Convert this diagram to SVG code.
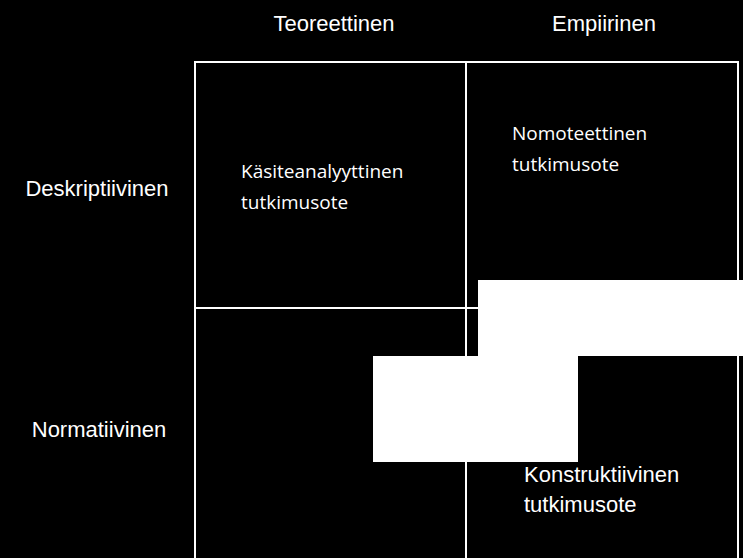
<svg xmlns="http://www.w3.org/2000/svg" width="743" height="558" viewBox="0 0 743 558">
<style>
.h{font-family:"Liberation Sans",Arial,sans-serif;font-size:22px;fill:#fff}
.c{font-family:"Open Sans","DejaVu Sans",sans-serif;font-size:19px;fill:#fff}
.l{stroke:#fff;stroke-width:2;fill:none}
</style>
<rect width="743" height="558" fill="#000"/>
<g id="grid">
<path class="l" d="M195,559 V62 H738 V559 M466,62 V559 M195,308 H738"/>
</g>
<text class="h" x="334" y="31" text-anchor="middle">Teoreettinen</text>
<text class="h" x="604" y="31" text-anchor="middle">Empiirinen</text>
<text class="h" x="97" y="196" text-anchor="middle">Deskriptiivinen</text>
<text class="h" x="99" y="437" text-anchor="middle">Normatiivinen</text>
<g id="n1"><text class="c" x="241" y="178">Käsiteanalyyttinen</text><text class="c" x="241" y="209">tutkimusote</text></g>
<g id="n2"><text class="c" x="512" y="140">Nomoteettinen</text><text class="c" x="512" y="171">tutkimusote</text></g>
<g id="n3"><text class="h" x="524" y="482">Konstruktiivinen</text><text class="h" x="524" y="512">tutkimusote</text></g>
<rect x="478" y="280" width="265" height="76" fill="#fff"/>
<rect x="373" y="356" width="205" height="106" fill="#fff"/>
</svg>
